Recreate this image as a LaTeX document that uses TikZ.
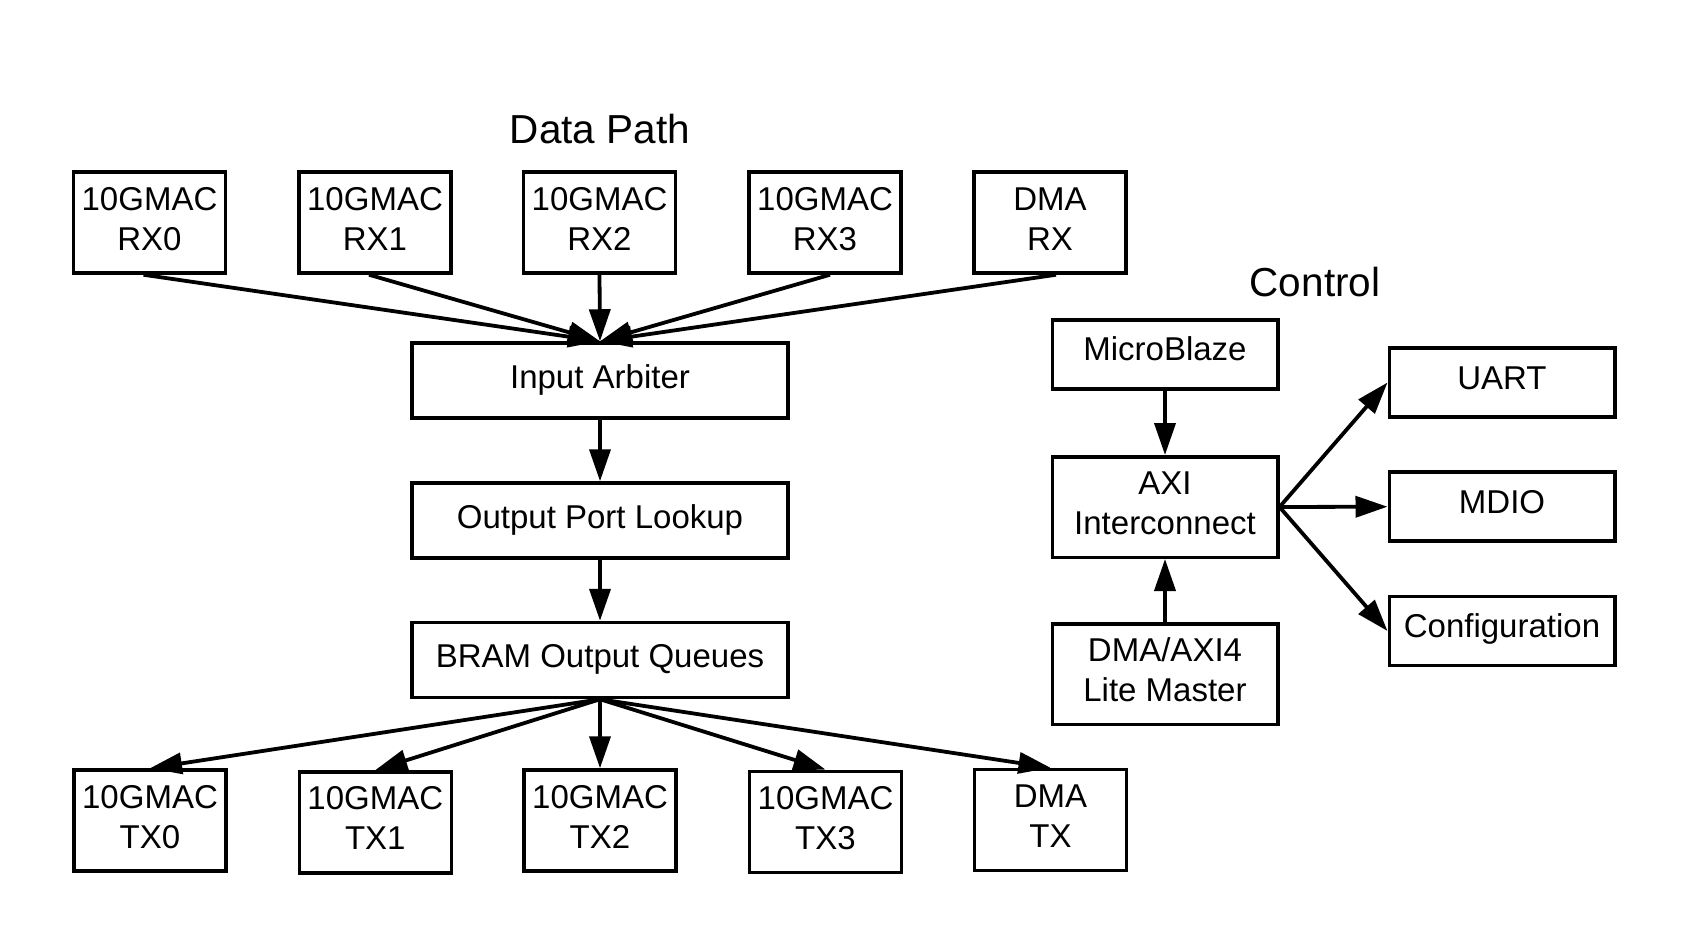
\documentclass[tikz,border=0pt]{standalone}
\usepackage{fontspec}
\setmainfont{Liberation Sans}
\usetikzlibrary{arrows.meta}
\begin{document}
\begin{tikzpicture}[x=1pt,y=-1pt,
  box/.style={draw, line width=3.5pt, inner sep=0pt},
  portbox/.style={box, minimum width=152pt, minimum height=101pt},
  widebox/.style={box, minimum width=376pt, minimum height=75pt},
  ctrlbox/.style={box, minimum width=225.5pt, minimum height=69pt},
  tallbox/.style={box, minimum width=225.5pt, minimum height=100.5pt},
  txt/.style={anchor=base, inner sep=0pt, font=\fontsize{33}{40}\selectfont},
  ttl/.style={anchor=base, inner sep=0pt, font=\fontsize{40.5}{48}\selectfont},
  conn/.style={line width=3.8pt, -{Triangle[length=32pt,width=21pt]}}]
\useasboundingbox[fill=white] (0,0) rectangle (1689,947);

% titles
\node[ttl] (dptitle) at (600,143) {Data Path};
\node[ttl] (cttitle) at (1315,296.7) {Control};

% RX row
\node[portbox] (rx0) at (149.5,222.5) {};
\node[portbox] (rx1) at (375,222.5) {};
\node[portbox] (rx2) at (599.5,222.5) {};
\node[portbox] (rx3) at (825,222.5) {};
\node[portbox] (dmarx) at (1050,222.5) {};
\node[txt] (rx0a) at ([yshift=12.5pt]rx0.center) {10GMAC};
\node[txt] (rx0b) at ([yshift=-27.5pt]rx0.center) {RX0};
\node[txt] (rx1a) at ([yshift=12.5pt]rx1.center) {10GMAC};
\node[txt] (rx1b) at ([yshift=-27.5pt]rx1.center) {RX1};
\node[txt] (rx2a) at ([yshift=12.5pt]rx2.center) {10GMAC};
\node[txt] (rx2b) at ([yshift=-27.5pt]rx2.center) {RX2};
\node[txt] (rx3a) at ([yshift=12.5pt]rx3.center) {10GMAC};
\node[txt] (rx3b) at ([yshift=-27.5pt]rx3.center) {RX3};
\node[txt] (dmarxa) at ([yshift=12.5pt]dmarx.center) {DMA};
\node[txt] (dmarxb) at ([yshift=-27.5pt]dmarx.center) {RX};

% middle pipeline
\node[widebox] (ia) at (600,380.5) {};
\node[widebox] (opl) at (600,520.5) {};
\node[widebox] (bram) at (600,660) {};
\node[txt] (iat) at ([yshift=-7.5pt]ia.center) {Input Arbiter};
\node[txt] (oplt) at ([yshift=-7.5pt]opl.center) {Output Port Lookup};
\node[txt] (bramt) at ([yshift=-7.5pt]bram.center) {BRAM Output Queues};

% TX row
\node[portbox] (tx0) at (150,820.5) {};
\node[portbox] (tx1) at (375.3,822.3) {};
\node[portbox] (tx2) at (600,820.5) {};
\node[portbox] (tx3) at (825.5,821.8) {};
\node[portbox] (dmatx) at (1050.5,820) {};
\node[txt] (tx0a) at ([yshift=12.5pt]tx0.center) {10GMAC};
\node[txt] (tx0b) at ([yshift=-27.5pt]tx0.center) {TX0};
\node[txt] (tx1a) at ([yshift=12.5pt]tx1.center) {10GMAC};
\node[txt] (tx1b) at ([yshift=-27.5pt]tx1.center) {TX1};
\node[txt] (tx2a) at ([yshift=12.5pt]tx2.center) {10GMAC};
\node[txt] (tx2b) at ([yshift=-27.5pt]tx2.center) {TX2};
\node[txt] (tx3a) at ([yshift=12.5pt]tx3.center) {10GMAC};
\node[txt] (tx3b) at ([yshift=-27.5pt]tx3.center) {TX3};
\node[txt] (dmatxa) at ([yshift=12.5pt]dmatx.center) {DMA};
\node[txt] (dmatxb) at ([yshift=-27.5pt]dmatx.center) {TX};

% control
\node[ctrlbox] (mb) at (1165,354.3) {};
\node[tallbox] (axi) at (1165,507) {};
\node[tallbox] (dma4) at (1165,674) {};
\node[ctrlbox] (uart) at (1502,382.5) {};
\node[ctrlbox] (mdio) at (1502,506.7) {};
\node[ctrlbox] (conf) at (1502,631) {};
\node[txt] (mbt) at ([yshift=-6.5pt]mb.center) {MicroBlaze};
\node[txt] (axia) at ([yshift=13pt]axi.center) {AXI};
\node[txt] (axib) at ([yshift=-27pt]axi.center) {Interconnect};
\node[txt] (dma4a) at ([yshift=12.5pt]dma4.center) {DMA/AXI4};
\node[txt] (dma4b) at ([yshift=-27.5pt]dma4.center) {Lite Master};
\node[txt] (uartt) at ([yshift=-6.7pt]uart.center) {UART};
\node[txt] (mdiot) at ([yshift=-6.7pt]mdio.center) {MDIO};
\node[txt] (conft) at ([yshift=-6.7pt]conf.center) {Configuration};

% data path connectors
\draw[conn] ([xshift=-6pt]rx0.south) -- (ia.north);
\draw[conn] ([xshift=-6pt]rx1.south) -- (ia.north);
\draw[conn] (rx2.south) -- (ia.north);
\draw[conn] ([xshift=5pt]rx3.south) -- (ia.north);
\draw[conn] ([xshift=6pt]dmarx.south) -- (ia.north);
\draw[conn] (ia.south) -- (opl.north);
\draw[conn] (opl.south) -- (bram.north);
\draw[conn] (bram.south) -- (tx0.north);
\draw[conn] (bram.south) -- (tx1.north);
\draw[conn] (bram.south) -- (tx2.north);
\draw[conn] (bram.south) -- (tx3.north);
\draw[conn] (bram.south) -- (dmatx.north);

% control connectors
\draw[conn] (mb.south) -- (axi.north);
\draw[conn] (dma4.north) -- (axi.south);
\draw[conn] (axi.east) -- (uart.west);
\draw[conn] (axi.east) -- (mdio.west);
\draw[conn] (axi.east) -- (conf.west);
\end{tikzpicture}
\end{document}
